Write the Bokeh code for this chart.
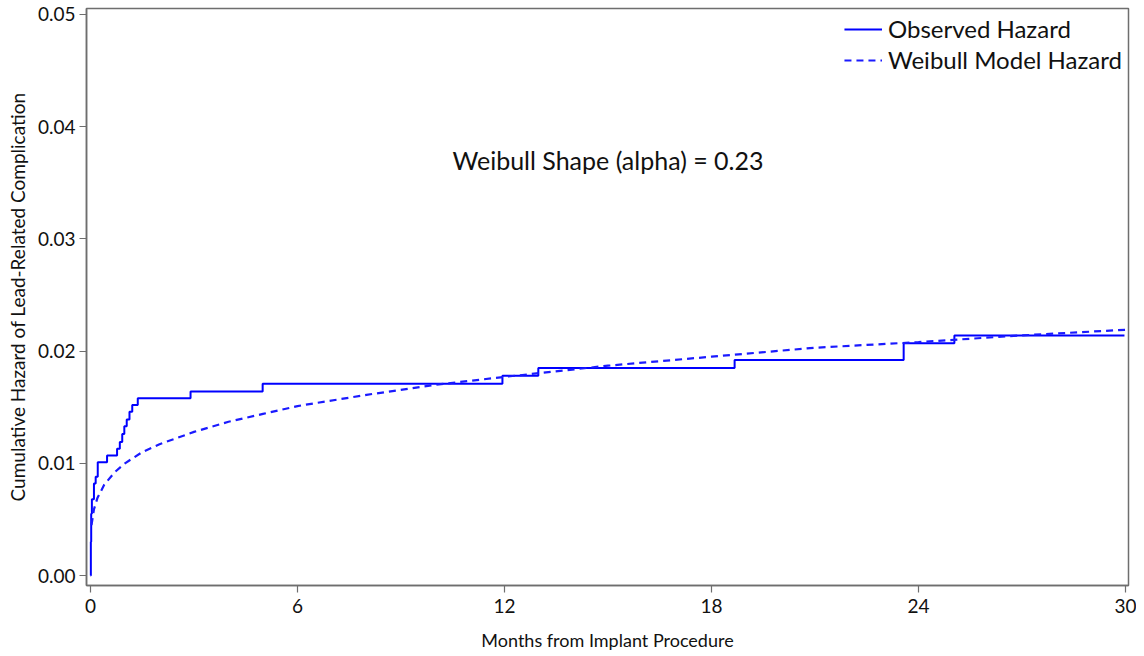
from bokeh.plotting import figure
from bokeh.models import Range1d, FixedTicker, Label, Legend, LegendItem
from bokeh.embed import file_html
from bokeh.resources import INLINE

# Observed cumulative hazard (step function), months vs hazard
obs_months = [0, 0.01, 0.02, 0.04, 0.10, 0.15, 0.21, 0.48, 0.77, 0.85, 0.92, 0.98,
              1.05, 1.13, 1.21, 1.37, 2.90, 4.99, 11.94, 12.98, 18.67, 23.57, 25.04, 29.97]
obs_hazard = [0.0, 0.0030, 0.0055, 0.0068, 0.0082, 0.0088, 0.0101, 0.0107, 0.0113, 0.0119,
              0.0126, 0.0133, 0.0139, 0.0146, 0.0152, 0.0158, 0.0164, 0.0171, 0.0178,
              0.0185, 0.0192, 0.0207, 0.0214, 0.0214]

# Weibull model cumulative hazard
wb_months = [0.03, 0.10, 0.20, 0.40, 0.70, 1.0, 1.5, 2, 3, 4, 5, 6, 8, 10, 12, 15, 18, 21, 24, 27, 30]
wb_hazard = [0.0045, 0.0059, 0.0069, 0.0081, 0.0092, 0.0100, 0.0110, 0.0117, 0.0128, 0.0137,
             0.0144, 0.0151, 0.0161, 0.0170, 0.0177, 0.0187, 0.0195, 0.0203, 0.0208, 0.0214, 0.0219]

x_ticks = [0, 6, 12, 18, 24, 30]
y_ticks = [0.00, 0.01, 0.02, 0.03, 0.04, 0.05]
y_tick_labels = {0.0: "0.00", 0.01: "0.01", 0.02: "0.02", 0.03: "0.03", 0.04: "0.04", 0.05: "0.05"}

FONT = "Lato"
BLUE = "#1a1aff"
AX = "#6e6e6e"

p = figure(width=1136, height=654, output_backend="svg", toolbar_location=None,
           x_range=Range1d(-0.116, 30.087), y_range=Range1d(-0.00089, 0.05053),
           min_border_left=86, min_border_right=8, min_border_top=8, min_border_bottom=69)

p.xgrid.visible = False
p.ygrid.visible = False
p.outline_line_color = AX
p.outline_line_width = 1.5

r1 = p.step(obs_months, obs_hazard, mode="after", line_color="#0000ff", line_width=2)
r2 = p.line(wb_months, wb_hazard, line_color=BLUE, line_width=2.2, line_dash="7 5")

p.xaxis.ticker = FixedTicker(ticks=x_ticks)
p.yaxis.ticker = FixedTicker(ticks=y_ticks)
p.yaxis.major_label_overrides = y_tick_labels
for ax in (p.xaxis[0], p.yaxis[0]):
    ax.axis_line_color = AX
    ax.axis_line_width = 1.5
    ax.major_tick_line_color = AX
    ax.major_tick_line_width = 1.2
    ax.major_tick_in = 0
    ax.major_tick_out = 7
    ax.minor_tick_line_color = None
    ax.major_label_text_font = FONT
    ax.major_label_text_font_size = "19px"
    ax.major_label_text_color = "#111111"
    ax.axis_label_text_font = FONT
    ax.axis_label_text_font_style = "normal"
    ax.axis_label_text_color = "#111111"

p.xaxis.axis_label = "Months from Implant Procedure"
p.yaxis.axis_label = "Cumulative Hazard of Lead-Related Complication"
p.xaxis.axis_label_text_font_size = "18px"
p.yaxis.axis_label_text_font_size = "19px"
p.xaxis.major_label_standoff = 6
p.xaxis.axis_label_standoff = 13
p.yaxis.major_label_standoff = 4
p.yaxis.axis_label_standoff = 6

legend = Legend(items=[LegendItem(label="Observed Hazard", renderers=[r1]),
                       LegendItem(label="Weibull Model Hazard", renderers=[r2])],
                location="top_right", border_line_color=None, background_fill_alpha=0,
                label_text_font=FONT, label_text_font_size="24px", label_text_color="#111111",
                glyph_width=38, label_standoff=6, spacing=2, padding=4, margin=6)
p.add_layout(legend)

p.add_layout(Label(x=15.0, y=0.0370, text="Weibull Shape (alpha) = 0.23", text_align="center",
                   text_baseline="middle", text_font=FONT, text_font_size="25px",
                   text_color="#111111"))

open("out.html", "w").write(file_html(p, INLINE))
